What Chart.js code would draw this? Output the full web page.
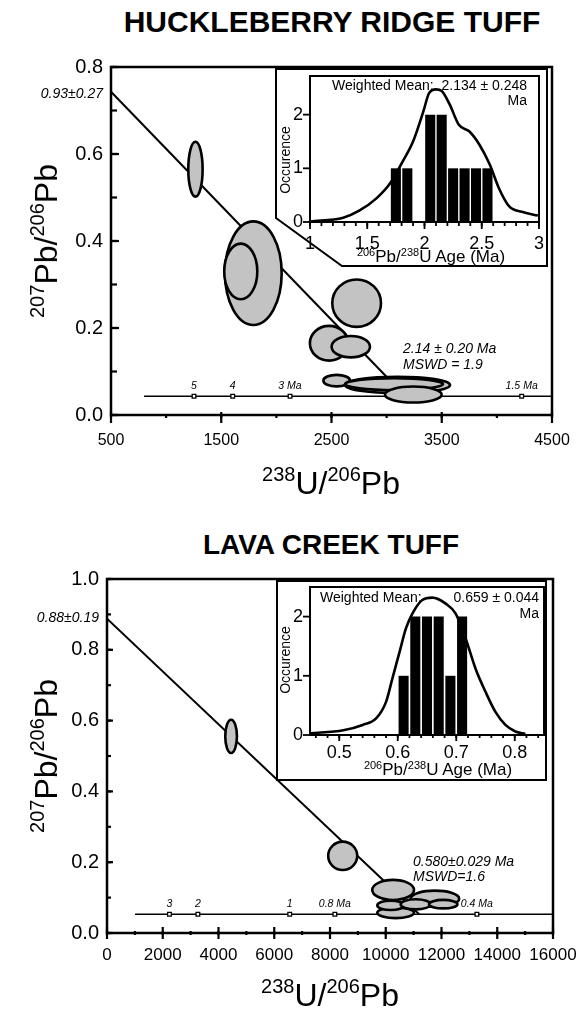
<!DOCTYPE html>
<html>
<head>
<meta charset="utf-8">
<title>Huckleberry Ridge and Lava Creek Tuff</title>
<script src="https://cdn.jsdelivr.net/npm/chart.js@4.4.1/dist/chart.umd.min.js"></script>
<style>
  html, body { margin: 0; background: #fff; overflow: hidden; }
  #page { position: relative; width: 580px; height: 1012px; overflow: hidden;
          font-family: "Liberation Sans", Arial, sans-serif; color: #000; }
  canvas { position: absolute; }
  .t { position: absolute; white-space: nowrap; line-height: 1; }
  .sup { line-height: 0; }
  .big { font-size: 32px; }
  .big .sup { font-size: 20px; vertical-align: 13px; }
  .small { font-size: 17px; }
  .small .sup { font-size: 11px; vertical-align: 6px; }
  .rot { transform: translate(-50%, -50%) rotate(-90deg); }
  .mid { transform: translateX(-50%); }
  .it { font-style: italic; }
  .head { font-size: 28px; font-weight: bold; }
  .note { font-size: 14px; }
  .age { font-size: 10.5px; font-style: italic; }
</style>
</head>
<body>
<div id="page">
  <canvas id="hrMain" width="580" height="440" style="left:0; top:40px"></canvas>
  <canvas id="hrInset" width="274" height="200" style="left:275px; top:68px"></canvas>
  <canvas id="lcMain" width="580" height="452" style="left:0; top:560px"></canvas>
  <canvas id="lcInset" width="272" height="202" style="left:276px; top:580px"></canvas>

  <!-- Huckleberry Ridge -->
  <div class="t mid head" style="left:332px; top:7px; font-size:30px">HUCKLEBERRY RIDGE TUFF</div>
  <div class="t rot big" style="left:46px; top:241px"><span class="sup">207</span>Pb/<span class="sup">206</span>Pb</div>
  <div class="t mid big" style="left:331px; top:467px"><span class="sup">238</span>U/<span class="sup">206</span>Pb</div>
  <div class="t note it" style="right:477px; top:86px">0.93±0.27</div>
  <div class="t note it" style="left:403px; top:341px">2.14 ± 0.20 Ma</div>
  <div class="t note it" style="left:403px; top:357px">MSWD = 1.9</div>
  <div class="t note" style="left:332px; top:78px">Weighted Mean:</div>
  <div class="t note" style="right:53px; top:78px">2.134 ± 0.248</div>
  <div class="t note" style="right:53px; top:93px">Ma</div>
  <div class="t rot note" style="left:285px; top:160px">Occurence</div>
  <div class="t mid small" style="left:431px; top:248px"><span class="sup">206</span>Pb/<span class="sup">238</span>U Age (Ma)</div>

  <!-- Lava Creek -->
  <div class="t mid head" style="left:331px; top:531px">LAVA CREEK TUFF</div>
  <div class="t rot big" style="left:46px; top:756px"><span class="sup">207</span>Pb/<span class="sup">206</span>Pb</div>
  <div class="t mid big" style="left:330px; top:979px"><span class="sup">238</span>U/<span class="sup">206</span>Pb</div>
  <div class="t note it" style="right:481px; top:610px">0.88±0.19</div>
  <div class="t note it" style="left:413px; top:854px">0.580±0.029 Ma</div>
  <div class="t note it" style="left:413px; top:869px">MSWD=1.6</div>
  <div class="t note" style="left:320px; top:590px">Weighted Mean:</div>
  <div class="t note" style="right:41px; top:590px">0.659 ± 0.044</div>
  <div class="t note" style="right:41px; top:606px">Ma</div>
  <div class="t rot note" style="left:285px; top:660px">Occurence</div>
  <div class="t mid small" style="left:438px; top:761px"><span class="sup">206</span>Pb/<span class="sup">238</span>U Age (Ma)</div>
</div>

<script>
const FONT = '"Liberation Sans", Arial, sans-serif';

// Huckleberry Ridge Tuff - Tera-Wasserburg plot
const hrRegressionX = [500, 3170];
const hrRegressionY = [0.743, 0.043];
const hrConcordiaX = [800, 4500];
const hrConcordiaY = [0.043, 0.043];
const hrAgeMarkX = [1253, 1604, 2124, 4225];
const hrAgeMarkLabels = ["5", "4", "3 Ma", "1.5 Ma"];
const hrEllipseX = [1266, 1791, 1677, 2728, 2478, 2675, 2547, 3099, 3067, 3242];
const hrEllipseY = [0.565, 0.326, 0.330, 0.257, 0.165, 0.157, 0.079, 0.069, 0.071, 0.047];
const hrEllipseRX = [65, 257, 150, 221, 174, 174, 121, 476, 444, 257];
const hrEllipseRY = [0.063, 0.119, 0.064, 0.0545, 0.040, 0.0245, 0.0133, 0.019, 0.0138, 0.0184];

// Huckleberry Ridge Tuff - age histogram inset
const hrAgeTicks = [1, 1.5, 2, 2.5, 3];
const hrBinCenters = [1.75, 1.85, 2.05, 2.15, 2.25, 2.35, 2.45, 2.55];
const hrBinCounts = [1, 1, 2, 2, 1, 1, 1, 1];
const hrPdfX = [1.00, 1.29, 1.43, 1.58, 1.70, 1.81, 1.90, 1.99, 2.04, 2.10, 2.15, 2.22, 2.30, 2.39, 2.48, 2.57, 2.65, 2.74, 2.85, 2.99];
const hrPdfY = [0.01, 0.08, 0.21, 0.44, 0.72, 1.13, 1.50, 2.06, 2.40, 2.47, 2.44, 2.19, 1.81, 1.69, 1.44, 1.07, 0.63, 0.29, 0.19, 0.12];

// Lava Creek Tuff - Tera-Wasserburg plot
const lcRegressionX = [0, 11200];
const lcRegressionY = [0.888, 0.053];
const lcConcordiaX = [1007, 16000];
const lcConcordiaY = [0.053, 0.053];
const lcAgeMarkX = [2240, 3261, 6555, 8175, 13270];
const lcAgeMarkLabels = ["3", "2", "1", "0.8 Ma", "0.4 Ma"];
const lcEllipseX = [4452, 8456, 11764, 10265, 10355, 10175, 11074, 12063];
const lcEllipseY = [0.5555, 0.218, 0.097, 0.1217, 0.057, 0.078, 0.081, 0.0815];
const lcEllipseRX = [210, 521, 869, 749, 659, 479, 539, 510];
const lcEllipseRY = [0.047, 0.040, 0.0226, 0.0283, 0.015, 0.0132, 0.0142, 0.012];

// Lava Creek Tuff - age histogram inset
const lcAgeTicks = [0.5, 0.6, 0.7, 0.8];
const lcBinCenters = [0.61, 0.63, 0.65, 0.67, 0.69, 0.71];
const lcBinCounts = [1, 2, 2, 2, 1, 2];
const lcPdfX = [0.450, 0.507, 0.540, 0.563, 0.580, 0.591, 0.603, 0.614, 0.625, 0.642, 0.659, 0.682, 0.699, 0.716, 0.733, 0.750, 0.767, 0.784, 0.801, 0.818];
const lcPdfY = [0.03, 0.08, 0.17, 0.28, 0.56, 0.96, 1.40, 1.80, 2.05, 2.28, 2.32, 2.22, 2.05, 1.63, 1.12, 0.73, 0.39, 0.17, 0.06, 0.02];

function points(xs, ys) {
  return xs.map((x, i) => ({ x: x, y: ys[i] }));
}

// fixed axis boxes so the plot areas land where the figure has them
function fixX(h) {
  return s => { s.height = h; s.paddingLeft = 0; s.paddingRight = 0; };
}
function fixY(w) {
  return s => { s.width = w; s.paddingTop = 0; s.paddingBottom = 0; };
}

// error ellipses, drawn on top of the lines
function ellipseLayer(cx, cy, rx, ry) {
  return {
    id: "ellipses",
    afterDatasetsDraw(chart) {
      const { ctx, chartArea: a } = chart;
      const sx = chart.scales.x, sy = chart.scales.y;
      ctx.save();
      ctx.beginPath();
      ctx.rect(a.left, a.top, a.right - a.left, a.bottom - a.top);
      ctx.clip();
      cx.forEach((x, i) => {
        const px = sx.getPixelForValue(x);
        const py = sy.getPixelForValue(cy[i]);
        const w = Math.abs(sx.getPixelForValue(x + rx[i]) - px);
        const h = Math.abs(sy.getPixelForValue(cy[i] + ry[i]) - py);
        ctx.beginPath();
        ctx.ellipse(px, py, w, h, 0, 0, Math.PI * 2);
        ctx.fillStyle = "#c3c3c3";
        ctx.fill();
        ctx.lineWidth = 2.6;
        ctx.strokeStyle = "#000";
        ctx.stroke();
      });
      ctx.restore();
    }
  };
}

// major + minor tick marks (inside / outside lengths per axis)
function tickMarks(cfg) {
  return {
    id: "tickMarks",
    afterDraw(chart) {
      const { ctx, chartArea: a } = chart;
      ctx.save();
      ctx.strokeStyle = "#000";
      ctx.lineWidth = cfg.width;
      ["x", "y"].forEach(id => {
        const s = chart.scales[id];
        const o = cfg[id];
        const mark = (v, inner, outer) => {
          const p = s.getPixelForValue(v);
          ctx.beginPath();
          if (id === "x") {
            ctx.moveTo(p, a.bottom - inner);
            ctx.lineTo(p, a.bottom + outer);
          } else {
            ctx.moveTo(a.left + inner, p);
            ctx.lineTo(a.left - outer, p);
          }
          ctx.stroke();
        };
        if (o.minor) {
          const first = Math.ceil(s.min / o.minor - 1e-6);
          for (let k = first; k * o.minor <= s.max + 1e-9; k++) {
            mark(k * o.minor, o.minorIn, o.minorOut);
          }
        }
        s.ticks.forEach(t => mark(t.value, o.majorIn, o.majorOut));
      });
      ctx.restore();
    }
  };
}

function frame(width) {
  return {
    id: "frame",
    afterDraw(chart) {
      const { ctx, chartArea: a } = chart;
      ctx.save();
      ctx.lineWidth = width;
      ctx.strokeStyle = "#000";
      ctx.strokeRect(a.left, a.top, a.right - a.left, a.bottom - a.top);
      ctx.restore();
    }
  };
}

// white inset panel with its outline
function insetBox(corners) {
  return {
    id: "insetBox",
    beforeDraw(chart) {
      const ctx = chart.ctx;
      ctx.save();
      ctx.beginPath();
      corners.forEach((c, i) => (i ? ctx.lineTo(c[0], c[1]) : ctx.moveTo(c[0], c[1])));
      ctx.closePath();
      ctx.fillStyle = "#fff";
      ctx.fill();
      ctx.lineWidth = 2;
      ctx.strokeStyle = "#000";
      ctx.stroke();
      ctx.restore();
    }
  };
}

function makeMain(id, d) {
  return new Chart(document.getElementById(id), {
    type: "scatter",
    data: {
      datasets: [
        {
          data: points(d.markX, d.markX.map(() => d.concY[0])),
          pointStyle: "rect", pointRadius: 2.6,
          pointBackgroundColor: "#fff", pointBorderColor: "#000", pointBorderWidth: 1.3
        },
        { data: points(d.concX, d.concY), showLine: true, borderColor: "#000", borderWidth: 1.6, pointRadius: 0 },
        { data: points(d.lineX, d.lineY), showLine: true, borderColor: "#000", borderWidth: 2, pointRadius: 0 }
      ]
    },
    options: {
      responsive: false,
      animation: false,
      events: [],
      layout: { padding: d.padding },
      plugins: { legend: { display: false }, tooltip: { enabled: false } },
      scales: {
        x: {
          type: "linear", min: d.xMin, max: d.xMax,
          grid: { display: false, drawTicks: false }, border: { display: false },
          ticks: {
            stepSize: d.xStep, padding: d.xPad, color: "#000", autoSkip: false, maxRotation: 0,
            font: { family: FONT, size: d.xFont }, callback: v => String(v)
          },
          afterFit: fixX(d.xHeight)
        },
        y: {
          type: "linear", min: 0, max: d.yMax,
          grid: { display: false, drawTicks: false }, border: { display: false },
          ticks: {
            stepSize: 0.2, padding: 8, color: "#000",
            font: { family: FONT, size: 20 }, callback: v => v.toFixed(1)
          },
          afterFit: fixY(d.yWidth)
        }
      }
    },
    plugins: [ellipseLayer(d.ellX, d.ellY, d.ellRX, d.ellRY), tickMarks(d.ticks), frame(2.5)]
  });
}

function makeInset(id, d) {
  return new Chart(document.getElementById(id), {
    type: "bar",
    data: {
      datasets: [
        {
          type: "line", data: points(d.pdfX, d.pdfY), borderColor: "#000", borderWidth: 2.6,
          pointRadius: 0, cubicInterpolationMode: "monotone", fill: false
        },
        {
          type: "bar", data: points(d.binX, d.binN), backgroundColor: "#000", borderWidth: 0,
          barPercentage: d.barPct, categoryPercentage: 1
        }
      ]
    },
    options: {
      responsive: false,
      animation: false,
      events: [],
      layout: { padding: d.padding },
      plugins: { legend: { display: false }, tooltip: { enabled: false } },
      scales: {
        x: {
          type: "linear", offset: false, min: d.xMin, max: d.xMax,
          grid: { display: false, drawTicks: false }, border: { display: false },
          afterBuildTicks: s => { s.ticks = d.xTicks.map(v => ({ value: v })); },
          ticks: {
            padding: d.xPad, color: "#000", autoSkip: false, maxRotation: 0,
            font: { family: FONT, size: 18 }, callback: v => String(v)
          },
          afterFit: fixX(d.xHeight)
        },
        y: {
          type: "linear", min: 0, max: d.yMax,
          grid: { display: false, drawTicks: false }, border: { display: false },
          ticks: {
            stepSize: 1, includeBounds: false, padding: 7, color: "#000",
            font: { family: FONT, size: 18 }
          },
          afterFit: fixY(d.yWidth)
        }
      }
    },
    plugins: [insetBox(d.box), tickMarks(d.ticks), frame(2)]
  });
}

// small age labels above the concordia squares
function ageLabels(chart, left, top, xs, y, labels) {
  const page = document.getElementById("page");
  xs.forEach((x, i) => {
    const el = document.createElement("div");
    el.className = "t mid age";
    el.textContent = labels[i];
    el.style.left = (left + chart.scales.x.getPixelForValue(x)) + "px";
    el.style.top = (top + chart.scales.y.getPixelForValue(y) - 16) + "px";
    page.appendChild(el);
  });
}

const hrChart = makeMain("hrMain", {
  lineX: hrRegressionX, lineY: hrRegressionY,
  concX: hrConcordiaX, concY: hrConcordiaY, markX: hrAgeMarkX,
  ellX: hrEllipseX, ellY: hrEllipseY, ellRX: hrEllipseRX, ellRY: hrEllipseRY,
  xMin: 500, xMax: 4500, xStep: 1000, xPad: 16, xFont: 16, yMax: 0.8,
  padding: { left: 0, right: 28, top: 27, bottom: 0 }, xHeight: 65, yWidth: 111,
  ticks: {
    width: 2.2,
    x: { minor: 500, majorIn: 3, majorOut: 8, minorIn: 0, minorOut: 3 },
    y: { minor: 0.1, majorIn: 8, majorOut: 0, minorIn: 6, minorOut: 0 }
  }
});
ageLabels(hrChart, 0, 40, hrAgeMarkX, hrConcordiaY[0], hrAgeMarkLabels);

makeInset("hrInset", {
  pdfX: hrPdfX, pdfY: hrPdfY, binX: hrBinCenters, binN: hrBinCounts, barPct: 0.88,
  xMin: 1, xMax: 3, xTicks: hrAgeTicks, xPad: 11, yMax: 2.72,
  padding: { left: 0, right: 10, top: 8, bottom: 0 }, xHeight: 46, yWidth: 35,
  box: [[1, 1], [272, 1], [272, 198], [67, 198], [1, 150]],
  ticks: {
    width: 1.8,
    x: { minor: 0.1, majorIn: 0, majorOut: 7, minorIn: 0, minorOut: 4 },
    y: { minor: 0, majorIn: 0, majorOut: 7 }
  }
});

const lcChart = makeMain("lcMain", {
  lineX: lcRegressionX, lineY: lcRegressionY,
  concX: lcConcordiaX, concY: lcConcordiaY, markX: lcAgeMarkX,
  ellX: lcEllipseX, ellY: lcEllipseY, ellRX: lcEllipseRX, ellRY: lcEllipseRY,
  xMin: 0, xMax: 16000, xStep: 2000, xPad: 12, xFont: 17, yMax: 1.0,
  padding: { left: 0, right: 27, top: 19, bottom: 0 }, xHeight: 79, yWidth: 107,
  ticks: {
    width: 2.2,
    x: { minor: 1000, majorIn: 6, majorOut: 6, minorIn: 2, minorOut: 2 },
    y: { minor: 0.1, majorIn: 6, majorOut: 0, minorIn: 4, minorOut: 0 }
  }
});
ageLabels(lcChart, 0, 560, lcAgeMarkX, lcConcordiaY[0], lcAgeMarkLabels);

makeInset("lcInset", {
  pdfX: lcPdfX, pdfY: lcPdfY, binX: lcBinCenters, binN: lcBinCounts, barPct: 0.86,
  xMin: 0.45, xMax: 0.85, xTicks: lcAgeTicks, xPad: 7, yMax: 2.5,
  padding: { left: 0, right: 4, top: 7, bottom: 0 }, xHeight: 47, yWidth: 34,
  box: [[1, 1], [270, 1], [270, 200], [1, 200]],
  ticks: {
    width: 1.8,
    x: { minor: 0.02, majorIn: 0, majorOut: 6, minorIn: 0, minorOut: 3 },
    y: { minor: 0, majorIn: 0, majorOut: 7 }
  }
});
</script>
</body>
</html>
